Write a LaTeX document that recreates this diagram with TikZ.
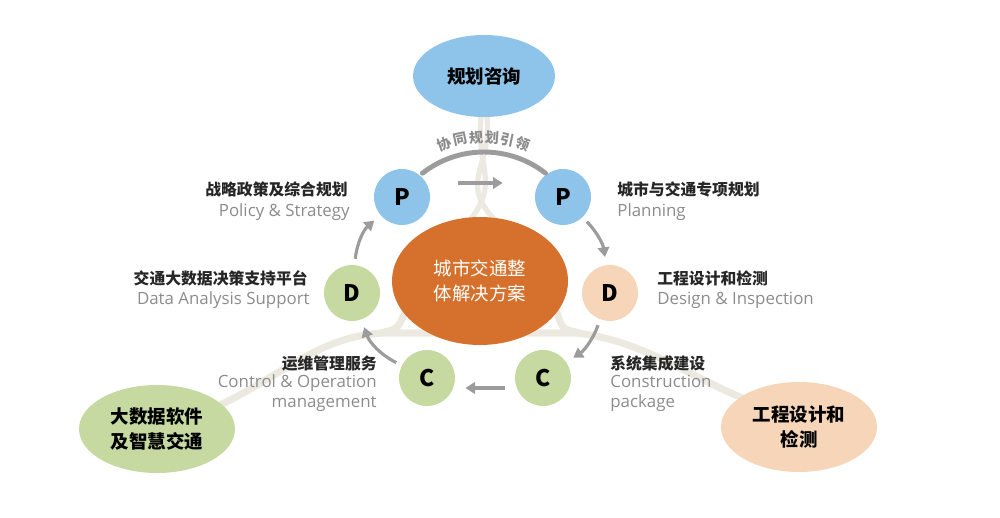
\documentclass[tikz,border=0pt]{standalone}
\usepackage{fontspec}
\setmainfont{Open Sans}
\newfontfamily\cjk{Noto Sans CJK SC}
\usetikzlibrary{shapes.geometric,arrows.meta}

\definecolor{pblue}{HTML}{8EC4E9}
\definecolor{dgreen}{HTML}{C5D9A0}
\definecolor{dpeach}{HTML}{F6D5B8}
\definecolor{core}{HTML}{D5712C}
\definecolor{roadcol}{HTML}{ECE9E0}
\definecolor{arrowgray}{HTML}{9C9C9C}
\definecolor{labblack}{HTML}{262626}
\definecolor{labgray}{HTML}{8C8C8C}

\tikzset{
  stage/.style={circle, minimum size=1.12cm, inner sep=0pt, text=black,
    font=\cjk\bfseries\fontsize{13}{13}\selectfont},
  bigzone/.style={ellipse, inner sep=0pt, align=center, text=black,
    font=\cjk\bfseries\fontsize{10.5}{14.5}\selectfont},
  cnlab/.style={inner sep=0pt, text=labblack, font=\cjk\bfseries\fontsize{9}{9}\selectfont},
  enlab/.style={inner sep=0pt, text=labgray, font=\fontsize{9.6}{9.6}\selectfont},
  flow/.style={draw=arrowgray, line width=1.8pt, -{Triangle[length=5.5pt,width=6.5pt]},
    shorten <=0.12cm, shorten >=0.16cm},
  road/.style={draw=roadcol, line width=4pt, line cap=round},
}

\begin{document}
\begin{tikzpicture}[x=0.02cm, y=0.02cm]
    \useasboundingbox (0,0) rectangle (1000,517);
    % background roads
    \draw[road, line width=3pt] (481,400) .. controls (476,350) and (500,335) .. (470,297);
    \draw[road, line width=3pt] (487,400) .. controls (492,350) and (458,335) .. (495,297);
    \draw[road] (220,112) .. controls (280,140) and (320,182) .. (385,184) -- (575,184)
      .. controls (640,178) and (690,140) .. (745,118);
    \draw[road] (380,184) .. controls (398,188) .. (405,205);
    \draw[road] (580,184) .. controls (562,188) .. (557,205);
    % big zones
    \node[bigzone, fill=pblue, minimum width=2.84cm, minimum height=1.64cm] (plan) at (484,441) {规划咨询};
    \node[bigzone, fill=dgreen, minimum width=3.12cm, minimum height=1.76cm] (bigdata) at (157,88) {大数据软件\\及智慧交通};
    \node[bigzone, fill=dpeach, minimum width=3.12cm, minimum height=1.8cm] (eng) at (799,90) {工程设计和\\检测};
    \node[bigzone, fill=core, text=white, minimum width=3.52cm, minimum height=2.56cm,
      font=\cjk\fontsize{10.5}{14.5}\selectfont] (core) at (480,236) {城市交通整\\体解决方案};
    % stages
    \node[stage, fill=pblue] (pl) at (402,320) {P};
    \node[stage, fill=pblue] (pr) at (563,320) {P};
    \node[stage, fill=dgreen] (dl) at (352,224) {D};
    \node[stage, fill=dpeach] (dr) at (610,224) {D};
    \node[stage, fill=dgreen] (cl) at (427,139) {C};
    \node[stage, fill=dgreen] (cr) at (543,139) {C};
    % cycle arrows
    \draw[flow] (dl) to[bend left=22] (pl);
    \draw[flow, shorten <=0.56cm, shorten >=0.64cm] ([yshift=0.28cm]pl.east) -- ([yshift=0.28cm]pr.west);
    \draw[flow] (pr) to[bend left=18] (dr);
    \draw[flow] (dr) to[bend left=18] (cr);
    \draw[flow, shorten <=0.2cm, shorten >=0.2cm] ([yshift=-0.2cm]cr.west) -- ([yshift=-0.2cm]cl.east);
    \draw[flow] (cl) to[bend left=22] (dl);
    % arc on top
    \draw[draw=arrowgray, line width=2.8pt, line cap=round] ([shift={(128:2cm)}]484,265) arc[start angle=128, end angle=52, radius=2cm];
    \foreach \ch/\ang [count=\i] in {协/110, 同/102, 规/94, 划/86, 引/78, 领/70}
      \node[inner sep=0pt, text=labgray, font=\cjk\bfseries\fontsize{8}{8}\selectfont, rotate=\ang-90]
        (arc\i) at ([shift={(\ang:2.3cm)}]484,265) {\ch};
    % labels
    \node[cnlab, anchor=base east] (pl-cn) at (348,321) {战略政策及综合规划};
    \node[enlab, anchor=base east] (pl-en) at (350,300) {Policy \& Strategy};
    \node[cnlab, anchor=base west] (pr-cn) at (617,321) {城市与交通专项规划};
    \node[enlab, anchor=base west] (pr-en) at (617,300) {Planning};
    \node[cnlab, anchor=base east] (dl-cn) at (308,232) {交通大数据决策支持平台};
    \node[enlab, anchor=base east] (dl-en) at (310,212) {Data Analysis Support};
    \node[cnlab, anchor=base west] (dr-cn) at (657,232) {工程设计和检测};
    \node[enlab, anchor=base west] (dr-en) at (657,212) {Design \& Inspection};
    \node[cnlab, anchor=base east] (cl-cn) at (377,147) {运维管理服务};
    \node[enlab, anchor=base east] (cl-en1) at (377,129) {Control \& Operation};
    \node[enlab, anchor=base east] (cl-en2) at (377,109) {management};
    \node[cnlab, anchor=base west] (cr-cn) at (610,147) {系统集成建设};
    \node[enlab, anchor=base west] (cr-en1) at (610,129) {Construction};
    \node[enlab, anchor=base west] (cr-en2) at (610,109) {package};
\end{tikzpicture}
\end{document}
